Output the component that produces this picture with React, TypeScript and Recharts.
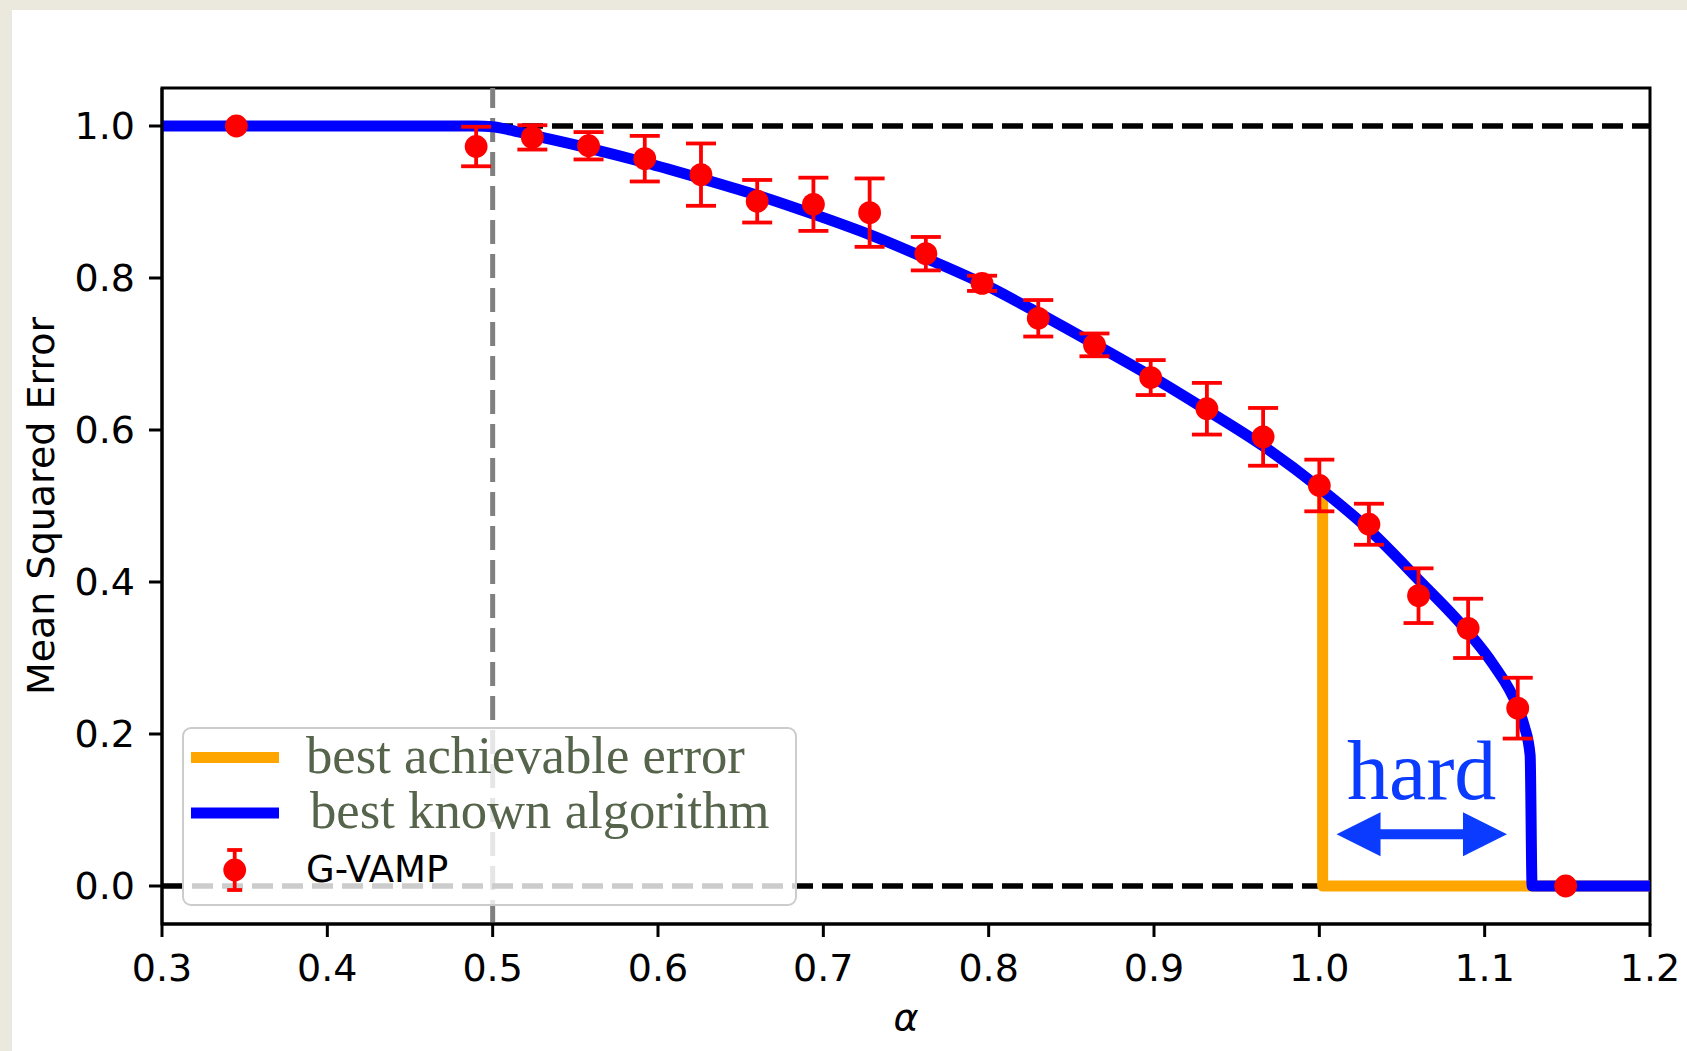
import { ComposedChart, Line, Scatter, ErrorBar, XAxis, YAxis, ReferenceArea, ReferenceLine, Legend } from "recharts"

// best known algorithm (blue curve)
const algoAlpha = [0.3, 0.49, 0.5, 0.51, 0.524, 0.558, 0.592, 0.626, 0.66, 0.694, 0.728, 0.762, 0.796, 0.83, 0.864, 0.898, 0.932, 0.966, 1.0, 1.03, 1.06, 1.09, 1.105, 1.12, 1.124, 1.1275, 1.1287, 1.2]
const algoMse = [1, 1, 0.999, 0.995, 0.988, 0.971, 0.952, 0.931, 0.909, 0.884, 0.857, 0.826, 0.793, 0.754, 0.713, 0.671, 0.626, 0.579, 0.524, 0.469, 0.403, 0.334, 0.292, 0.235, 0.21, 0.172, 0, 0]

// best achievable error: follows the blue curve up to alpha = 1, then drops to zero
const dropAlpha = [1.002, 1.002, 1.2]
const dropMse = [0.515, 0, 0]

// G-VAMP runs
const gvampAlpha = [0.345, 0.49, 0.524, 0.558, 0.592, 0.626, 0.66, 0.694, 0.728, 0.762, 0.796, 0.83, 0.864, 0.898, 0.932, 0.966, 1.0, 1.03, 1.06, 1.09, 1.12, 1.149]
const gvampMse = [1.0, 0.973, 0.985, 0.974, 0.957, 0.936, 0.901, 0.897, 0.886, 0.832, 0.793, 0.747, 0.712, 0.669, 0.628, 0.591, 0.527, 0.476, 0.382, 0.339, 0.234, 0.0]
const gvampErr = [0, 0.026, 0.016, 0.018, 0.03, 0.041, 0.028, 0.035, 0.045, 0.022, 0.01, 0.024, 0.015, 0.023, 0.034, 0.038, 0.034, 0.027, 0.036, 0.039, 0.04, 0]

const xTicks = [0.3, 0.4, 0.5, 0.6, 0.7, 0.8, 0.9, 1.0, 1.1, 1.2]
const yTicks = [0, 0.2, 0.4, 0.6, 0.8, 1.0]
const alphaDomain = [0.3, 1.2]
const mseDomain = [-0.05, 1.05]
const thresholdAlpha = 0.5
const hardSpan = [1.0104, 1.1135]
const hardLevel = 0.068
const legendLabels = ["best achievable error", "best known algorithm", "G-VAMP"]

const algoData = algoAlpha.map((x, i) => ({ x, y: algoMse[i] }))
const bestData = [
  ...algoData.filter((d) => d.x === 1.0),
  ...dropAlpha.map((x, i) => ({ x, y: dropMse[i] })),
]
const gvampData = gvampAlpha.map((x, i) => ({ x, y: gvampMse[i], err: gvampErr[i] }))
const upperRef = alphaDomain.map((x) => ({ x, y: 1 }))
const lowerRef = alphaDomain.map((x) => ({ x, y: 0 }))
const thresholdLine = mseDomain.map((y) => ({ x: thresholdAlpha, y }))

const SANS = "'DejaVu Sans', sans-serif"
const SERIF = "'Liberation Serif', serif"
const HARD_BLUE = "#0b3bff"

const MARGIN = { top: 88, right: 37, bottom: 0, left: 12 }

const DoubleArrow = (props: any) => {
  const { x1, y1, x2 } = props
  if (x1 == null || x2 == null) return null
  const head = 44
  const half = 22
  const shaft = 5
  const a = Math.min(x1, x2)
  const b = Math.max(x1, x2)
  const y = y1
  const pts = [
    [a, y], [a + head, y - half], [a + head, y - shaft], [b - head, y - shaft], [b - head, y - half],
    [b, y], [b - head, y + half], [b - head, y + shaft], [a + head, y + shaft], [a + head, y + half],
  ]
  return <polygon points={pts.map((p) => p.join(",")).join(" ")} fill={HARD_BLUE} />
}

const YTitle = (props: any) => {
  const vb = props.viewBox
  const cx = (vb && vb.x != null ? vb.x : MARGIN.left) + 29
  const cy = vb && vb.height ? vb.y + vb.height / 2 : 506
  return (
    <text x={cx} y={cy} transform={`rotate(-90 ${cx} ${cy})`} textAnchor="middle" dominantBaseline="central"
      fontFamily={SANS} fontSize={38} fill="#000">
      Mean Squared Error
    </text>
  )
}

const XTitle = (props: any) => {
  const vb = props.viewBox
  const cx = vb && vb.width ? vb.x + vb.width / 2 : 906
  const by = vb && vb.y != null ? vb.y + 106 : 1030
  return (
    <text x={cx} y={by} textAnchor="middle" fontFamily={SANS} fontStyle="italic" fontSize={38} fill="#000">
      α
    </text>
  )
}

const LegendBox = () => (
  <svg width={616} height={180} style={{ display: "block" }}>
    <rect x={1} y={1} width={613} height={177} rx={8} fill="rgba(255,255,255,0.8)" stroke="#cccccc" strokeWidth={2} />
    <line x1={9} x2={97} y1={30.5} y2={30.5} stroke="#ffa500" strokeWidth={11} />
    <text x={124} y={46} fontFamily={SERIF} fontSize={52.7} fill="#55644a">{legendLabels[0]}</text>
    <line x1={9} x2={97} y1={86} y2={86} stroke="#0000ff" strokeWidth={11} />
    <text x={128} y={101} fontFamily={SERIF} fontSize={52.7} fill="#55644a">{legendLabels[1]}</text>
    <line x1={52.7} x2={52.7} y1={123} y2={163} stroke="#ff0000" strokeWidth={3.8} />
    <line x1={45.2} x2={60.2} y1={123} y2={123} stroke="#ff0000" strokeWidth={3.8} />
    <line x1={45.2} x2={60.2} y1={163} y2={163} stroke="#ff0000" strokeWidth={3.8} />
    <circle cx={52.7} cy={143} r={11.4} fill="#ff0000" />
    <text x={124} y={155} fontFamily={SANS} fontSize={37} fill="#000">{legendLabels[2]}</text>
  </svg>
)

export default function App() {
  return (
    <div style={{ position: "absolute", left: 0, top: 0, width: 1687, height: 1051, background: "#ebe9de", overflow: "hidden" }}>
      <div style={{ position: "absolute", left: 12, top: 10, right: 0, bottom: 0, background: "#ffffff" }} />
      <div style={{ position: "absolute", left: 0, top: 0 }}>
        <ComposedChart width={1687} height={1051} margin={MARGIN}>
          <XAxis
            type="number"
            dataKey="x"
            domain={alphaDomain}
            ticks={xTicks}
            allowDataOverflow
            interval={0}
            height={127}
            tickSize={13}
            tickMargin={17}
            tickFormatter={(v: number) => v.toFixed(1)}
            tick={{ fontFamily: SANS, fontSize: 38, fill: "#000" }}
            tickLine={{ stroke: "#000", strokeWidth: 3 }}
            axisLine={{ stroke: "#000", strokeWidth: 3 }}
            label={<XTitle />}
          />
          <YAxis
            type="number"
            dataKey="y"
            domain={mseDomain}
            ticks={yTicks}
            allowDataOverflow
            interval={0}
            width={150}
            tickSize={13}
            tickMargin={14}
            tickFormatter={(v: number) => v.toFixed(1)}
            tick={{ fontFamily: SANS, fontSize: 38, fill: "#000" }}
            tickLine={{ stroke: "#000", strokeWidth: 3 }}
            axisLine={{ stroke: "#000", strokeWidth: 3 }}
            label={<YTitle />}
          />
          <ReferenceArea
            x1={alphaDomain[0]}
            x2={alphaDomain[1]}
            y1={mseDomain[0]}
            y2={mseDomain[1]}
            fill="none"
            stroke="#000"
            strokeWidth={3}
            ifOverflow="visible"
          />
          <Line data={thresholdLine} dataKey="y" type="linear" stroke="#808080" strokeWidth={5} strokeDasharray="24 10"
            dot={false} activeDot={false} isAnimationActive={false} />
          <Line data={upperRef} dataKey="y" type="linear" stroke="#000" strokeWidth={5.5} strokeDasharray="21 9"
            dot={false} activeDot={false} isAnimationActive={false} />
          <Line data={lowerRef} dataKey="y" type="linear" stroke="#000" strokeWidth={5.5} strokeDasharray="21 9"
            dot={false} activeDot={false} isAnimationActive={false} />
          <Line data={bestData} dataKey="y" type="linear" stroke="#ffa500" strokeWidth={11} strokeLinejoin="round"
            dot={false} activeDot={false} isAnimationActive={false} />
          <Line data={algoData} dataKey="y" type="monotone" stroke="#0000ff" strokeWidth={11} strokeLinejoin="round"
            dot={false} activeDot={false} isAnimationActive={false} />
          <Scatter
            data={gvampData}
            dataKey="y"
            fill="#ff0000"
            isAnimationActive={false}
            shape={(p: any) => <circle cx={p.cx} cy={p.cy} r={11.4} fill="#ff0000" />}
          >
            <ErrorBar dataKey="err" direction="y" width={15} strokeWidth={3.8} stroke="#ff0000" isAnimationActive={false} />
          </Scatter>
          <ReferenceLine
            segment={[{ x: hardSpan[0], y: hardLevel }, { x: hardSpan[1], y: hardLevel }]}
            shape={(p: any) => <DoubleArrow {...p} />}
            label={{ value: "hard", position: "top", offset: 35, fill: HARD_BLUE, fontSize: 84, fontFamily: SERIF }}
          />
          <Legend
            layout="horizontal"
            verticalAlign="middle"
            align="center"
            wrapperStyle={{ left: 182, top: 727, width: 616, height: 180 }}
            content={() => <LegendBox />}
          />
        </ComposedChart>
      </div>
    </div>
  )
}
